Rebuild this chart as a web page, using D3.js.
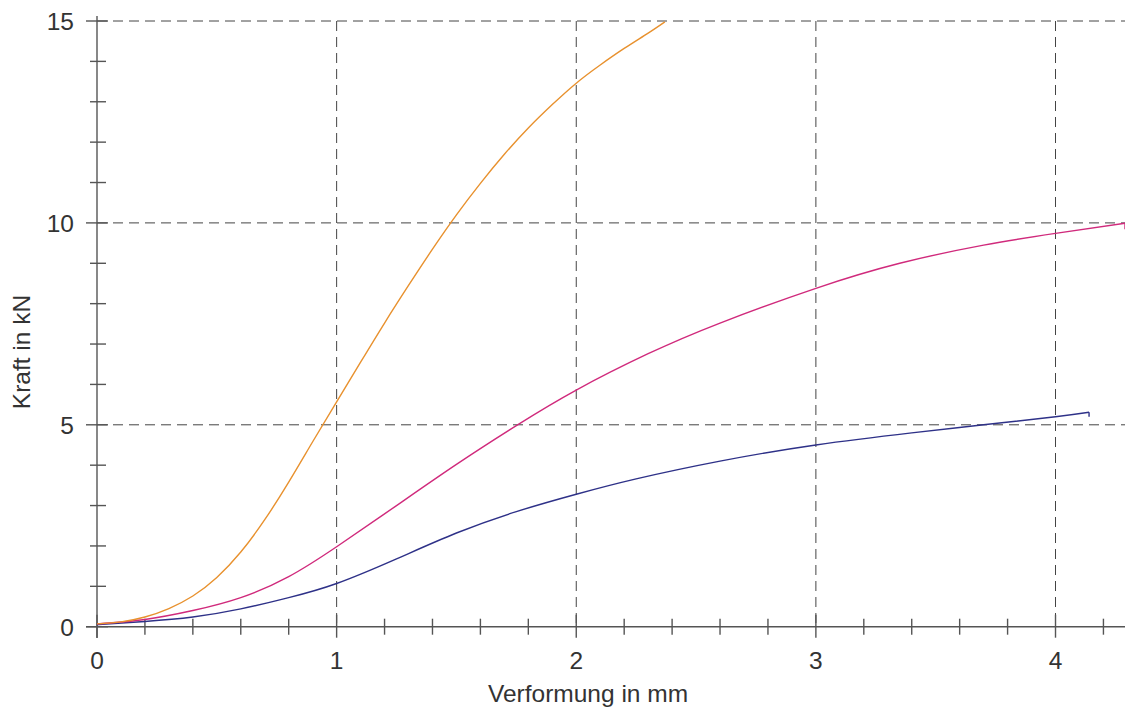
<!DOCTYPE html>
<html><head><meta charset="utf-8">
<script src="https://cdn.jsdelivr.net/npm/d3@7"></script>
<style>body{margin:0;background:#fff}svg{display:block}text{font-family:"Liberation Sans",Arial,sans-serif;fill:#333}</style>
</head><body>
<svg id="c" width="1125" height="711"></svg>
<script>
// Data (Verformung in mm, Kraft in kN)
const orangeX = [0, 0.1, 0.2, 0.3, 0.4, 0.5, 0.6, 0.7, 0.8, 0.9, 1.0, 1.1, 1.2, 1.3, 1.4, 1.5, 1.6, 1.7, 1.8, 1.9, 2.0, 2.1, 2.2, 2.3, 2.37];
const orangeY = [0.07, 0.12, 0.24, 0.45, 0.76, 1.22, 1.85, 2.65, 3.58, 4.58, 5.57, 6.55, 7.52, 8.45, 9.35, 10.2, 10.98, 11.7, 12.35, 12.93, 13.46, 13.91, 14.32, 14.7, 14.98];
const magentaX = [0, 0.2, 0.4, 0.6, 0.8, 1.0, 1.25, 1.5, 1.75, 2.0, 2.3, 2.6, 3.0, 3.35, 3.7, 4.0, 4.29];
const magentaY = [0.07, 0.18, 0.40, 0.72, 1.24, 1.98, 3.0, 4.02, 4.98, 5.86, 6.76, 7.52, 8.38, 9.0, 9.45, 9.74, 9.99];
const magentaEnd = [[4.29, 9.99], [4.29, 9.84]];
const blueX = [0, 0.2, 0.4, 0.6, 0.8, 1.0, 1.25, 1.5, 1.75, 2.0, 2.25, 2.6, 3.0, 3.4, 3.7, 4.0, 4.14];
const blueY = [0.05, 0.13, 0.24, 0.44, 0.72, 1.07, 1.68, 2.32, 2.85, 3.28, 3.66, 4.1, 4.5, 4.8, 5.0, 5.2, 5.31];
const blueEnd = [[4.14, 5.31], [4.14, 5.20]];
const xMajor = [0, 1, 2, 3, 4];
const yMajor = [0, 5, 10, 15];
const xGrid = [1, 2, 3, 4];
const yGrid = [5, 10, 15];
const xLabel = "Verformung in mm";
const yLabel = "Kraft in kN";

const svg = d3.select("#c");
const x = d3.scaleLinear().domain([0, 4.29]).range([97, 1125]);
const y = d3.scaleLinear().domain([0, 15]).range([626.7, 21]);
const FS = 24.5;

// grid
svg.append("g").selectAll("line").data(xGrid).join("line")
  .attr("x1", d => x(d)).attr("x2", d => x(d)).attr("y1", y(15)).attr("y2", y(0))
  .attr("stroke", "#444").attr("stroke-width", 1).attr("stroke-dasharray", "10,6");
svg.append("g").selectAll("line").data(yGrid).join("line")
  .attr("x1", x(0)).attr("x2", 1125).attr("y1", d => y(d)).attr("y2", d => y(d))
  .attr("stroke", "#444").attr("stroke-width", 1).attr("stroke-dasharray", "10,6");

// axes lines
const ax = svg.append("g").attr("stroke", "#555").attr("stroke-width", 1.4);
ax.append("line").attr("x1", x(0)).attr("x2", x(0)).attr("y1", 16).attr("y2", 638);
ax.append("line").attr("x1", 86).attr("x2", 1125).attr("y1", y(0)).attr("y2", y(0));
// ticks
const xMinor = d3.range(0, 4.3, 0.2).map(v => +v.toFixed(1));
ax.selectAll(".xm").data(xMinor).join("line")
  .attr("x1", d => x(d)).attr("x2", d => x(d))
  .attr("y1", d => xMajor.includes(d) ? y(0) - 12 : y(0) - 8)
  .attr("y2", d => xMajor.includes(d) ? y(0) + 11 : y(0) + 8);
const yMinor = d3.range(0, 16, 1);
ax.selectAll(".ym").data(yMinor).join("line")
  .attr("y1", d => y(d)).attr("y2", d => y(d))
  .attr("x1", d => yMajor.includes(d) ? x(0) - 11 : x(0) - 7)
  .attr("x2", d => yMajor.includes(d) ? x(0) + 11 : x(0) + 9);

// tick labels
svg.append("g").selectAll("text").data(xMajor).join("text")
  .attr("x", d => x(d)).attr("y", 669).attr("text-anchor", "middle")
  .attr("font-size", FS).text(d => d);
svg.append("g").selectAll("text").data(yMajor).join("text")
  .attr("x", 74).attr("y", d => y(d) + 8.8).attr("text-anchor", "end")
  .attr("font-size", FS).text(d => d);

// axis titles
svg.append("text").attr("x", 588).attr("y", 702).attr("text-anchor", "middle")
  .attr("font-size", FS).text(xLabel);
svg.append("text").attr("transform", "translate(30,352) rotate(-90)").attr("text-anchor", "middle")
  .attr("font-size", FS).text(yLabel);

// curves
const line = d3.line().x(d => x(d[0])).y(d => y(d[1])).curve(d3.curveNatural);
const straight = d3.line().x(d => x(d[0])).y(d => y(d[1]));
function series(xs, ys, color, end) {
  const pts = xs.map((v, i) => [v, ys[i]]);
  svg.append("path").datum(pts).attr("d", line).attr("fill", "none")
    .attr("stroke", color).attr("stroke-width", 1.4);
  if (end) svg.append("path").datum(end).attr("d", straight).attr("fill", "none")
    .attr("stroke", color).attr("stroke-width", 1.4);
}
series(blueX, blueY, "#2E3188", blueEnd);
series(magentaX, magentaY, "#D02A7C", magentaEnd);
series(orangeX, orangeY, "#E8912E", null);
</script>
</body></html>
